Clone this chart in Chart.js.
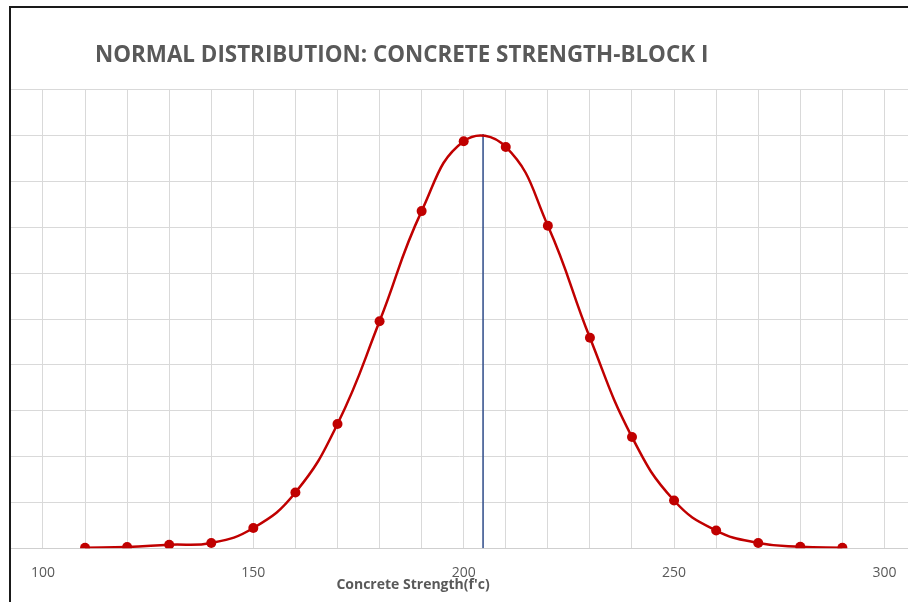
<!DOCTYPE html>
<html>
<head>
<meta charset="utf-8">
<script src="https://cdn.jsdelivr.net/npm/chart.js@4.4.0/dist/chart.umd.min.js"></script>
<style>
  html, body { margin: 0; padding: 0; background: #ffffff; overflow: hidden; }
  #frame { position: absolute; left: 9px; top: 6px; width: 899px; height: 596px;
           border-left: 2px solid #1a1a1a; border-top: 2px solid #1a1a1a; }
  #c { display: block; }
</style>
</head>
<body>
<div id="frame"><canvas id="c" width="897" height="594"></canvas></div>
<script>
// ---- data ----
const strengths = [110, 120, 130, 140, 150, 160, 170, 180, 190, 200, 210, 220, 230, 240, 250, 260, 270, 280, 290];
const density   = [0.00002, 0.00005, 0.00015, 0.00023, 0.00088, 0.00243, 0.00542, 0.00990, 0.01471, 0.01776,
                   0.01751, 0.01407, 0.00918, 0.00485, 0.00208, 0.00077, 0.00023, 0.00006, 0.00002];
const meanStrength = 204.6;
const peakDensity  = 0.01808;
const xTickValues  = [100, 110, 120, 130, 140, 150, 160, 170, 180, 190, 200, 210, 220, 230, 240, 250, 260, 270, 280, 290, 300];
const xLabelValues = [100, 150, 200, 250, 300];
const chartTitle = 'NORMAL DISTRIBUTION: CONCRETE STRENGTH-BLOCK I';
const xAxisTitle = "Concrete Strength(f'c)";

const curvePoints = strengths.map((s, i) => ({ x: s, y: density[i] }));
const meanLine = [{ x: meanStrength, y: 0 }, { x: meanStrength, y: peakDensity }];

const shiftTitle = {
  id: 'shiftTitle',
  afterLayout(chart) {
    if (chart.titleBlock) {
      chart.titleBlock.left = chart.chartArea.left + 84;
    }
  }
};

const axisTitlePlugin = {
  id: 'axisTitlePlugin',
  afterDraw(chart) {
    const ctx = chart.ctx;
    ctx.save();
    ctx.font = 'bold 14px "Open Sans", Lato, sans-serif';
    ctx.fillStyle = '#595959';
    ctx.textAlign = 'center';
    ctx.textBaseline = 'middle';
    ctx.fillText(xAxisTitle, chart.chartArea.left + 402, chart.chartArea.bottom + 37);
    ctx.restore();
  }
};

new Chart(document.getElementById('c'), {
  type: 'scatter',
  data: {
    datasets: [
      {
        label: 'Normal distribution',
        data: curvePoints,
        showLine: true,
        tension: 0.45,
        borderColor: '#C00000',
        backgroundColor: '#C00000',
        borderWidth: 2.5,
        pointRadius: 5,
        pointHoverRadius: 5,
        pointBorderWidth: 0
      },
      {
        label: 'Mean',
        data: meanLine,
        showLine: true,
        borderColor: '#3A5690',
        backgroundColor: '#3A5690',
        borderWidth: 1.6,
        pointRadius: 0
      }
    ]
  },
  options: {
    responsive: false,
    animation: false,
    layout: { autoPadding: false, padding: { left: 0, right: 0, top: 0, bottom: 17 } },
    plugins: {
      legend: { display: false },
      tooltip: { enabled: false },
      title: {
        display: true,
        text: chartTitle,
        align: 'start',
        color: '#595959',
        font: { family: '"Open Sans", Lato, sans-serif', size: 22.4, weight: 'bold' },
        padding: { top: 34, bottom: 21 }
      }
    },
    scales: {
      x: {
        type: 'linear',
        min: 92.4,
        max: 305.6,
        afterBuildTicks(scale) {
          scale.ticks = xTickValues.map(v => ({ value: v }));
        },
        ticks: {
          autoSkip: false,
          maxRotation: 0,
          padding: 4,
          color: '#595959',
          font: { family: '"Open Sans", Lato, sans-serif', size: 14 },
          callback: (v) => xLabelValues.includes(v) ? String(v) : ''
        },
        grid: { color: '#d9d9d9', lineWidth: 1, drawTicks: true, tickLength: 12, tickColor: 'rgba(0,0,0,0)' },
        border: { display: true, color: '#cfcfcf', width: 1 }
      },
      y: {
        min: 0,
        max: 0.02,
        ticks: { display: false, stepSize: 0.002 },
        grid: { color: '#d9d9d9', lineWidth: 1, drawTicks: false },
        border: { display: false }
      }
    }
  },
  plugins: [shiftTitle, axisTitlePlugin]
});
</script>
</body>
</html>
